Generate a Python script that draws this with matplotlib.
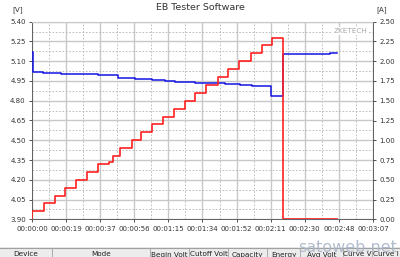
import numpy as np
import matplotlib
matplotlib.use("Agg")
import matplotlib.pyplot as plt
from matplotlib.ticker import MultipleLocator, FuncFormatter

# voltage samples (s, V) - step curve
volt_t = [0, 0.3, 6, 16, 25.2, 36.2, 47, 56.5, 65.6, 72.9, 78.4, 89.4, 100.3,
          105.8, 114, 120.4, 131, 137.8, 163.4, 167.2]
volt_v = [5.167, 5.019, 5.013, 5.005, 5.000, 4.993, 4.975, 4.963, 4.956, 4.951,
          4.946, 4.937, 4.933, 4.928, 4.921, 4.914, 4.834, 5.154, 5.163, 5.163]

# current samples (s, A) - step curve
curr_t = [0, 0.2, 6.4, 12.4, 18.3, 24.3, 30.3, 36.3, 42.2, 44.6, 48.2, 54.6,
          59.6, 66.0, 72.0, 77.9, 83.9, 89.4, 95.4, 101.8, 107.6, 113.7, 119.9,
          125.9, 131.4, 137.8, 167.2]
curr_i = [0, 0.1, 0.2, 0.3, 0.4, 0.5, 0.6, 0.7, 0.72, 0.8, 0.9, 1.0, 1.1, 1.2,
          1.3, 1.4, 1.5, 1.6, 1.7, 1.8, 1.9, 2.0, 2.1, 2.2, 2.3, 0.0, 0.0]

table_cols = ["Device", "Mode", "Begin Volt", "Cutoff Volt", "Capacity",
              "Energy", "Avg Volt", "Curve V", "Curve I"]
table_edges = [0, 52, 150, 189, 228, 267, 300, 343, 372, 400]

W, H = 400, 257
fig = plt.figure(figsize=(4, 2.57), dpi=100)
fig.patch.set_facecolor("white")

ax = fig.add_axes([32 / W, 1 - 219.3 / H, 341 / W, 197.6 / H])
ax.set_xlim(0, 187)
ax.set_ylim(3.90, 5.40)
ax.xaxis.set_major_locator(MultipleLocator(18.7))
ax.xaxis.set_minor_locator(MultipleLocator(9.35))
ax.yaxis.set_major_locator(MultipleLocator(0.15))
ax.yaxis.set_minor_locator(MultipleLocator(0.075))


def hms(x, pos):
    s = int(x + 0.5 + 1e-6)
    return f"{s // 3600:02d}:{(s % 3600) // 60:02d}:{s % 60:02d}"


ax.xaxis.set_major_formatter(FuncFormatter(hms))
ax.yaxis.set_major_formatter(FuncFormatter(lambda v, p: f"{v:.2f}"))
ax.grid(which="major", color="#c8c8c8", lw=1.0, ls="-")
ax.grid(which="minor", color="#b4b4b4", lw=0.6, ls=(0, (2, 2)))
ax.set_axisbelow(True)
ax.tick_params(which="minor", length=0)
ax.tick_params(which="major", labelsize=5.0, colors="#333333", length=2.5, width=0.6, pad=2)
for s in ["left", "bottom", "right"]:
    ax.spines[s].set_color("#606060")
    ax.spines[s].set_linewidth(0.7)
ax.spines["top"].set_color("#c8c8c8")

ax.step(volt_t, volt_v, where="post", color="#1414e6", lw=1.1, zorder=3)

ax2 = ax.twinx()
ax2.set_ylim(0, 2.5)
ax2.yaxis.set_major_locator(MultipleLocator(0.25))
ax2.yaxis.set_major_formatter(FuncFormatter(lambda v, p: f"{v:.2f}"))
ax2.tick_params(labelsize=5.0, colors="#333333", length=2.5, width=0.6, pad=2)
for s in ax2.spines.values():
    s.set_visible(False)
ax2.step(curr_t, curr_i, where="post", color="#ff2020", lw=1.2, zorder=4)

fig.text(0.5, 1 - 8 / H, "EB Tester Software", ha="center", va="center",
         fontsize=6.8, color="#333333")
fig.text(18 / W, 1 - 10 / H, "[V]", ha="center", va="center", fontsize=5.2, color="#333333")
fig.text(382 / W, 1 - 10 / H, "[A]", ha="center", va="center", fontsize=5.2, color="#333333")
fig.text(367 / W, 1 - 31 / H, "ZKETECH", ha="right", va="center", fontsize=5.2,
         color="#a8a8a8", bbox=dict(facecolor="white", edgecolor="none", pad=0.5))

# table header strip at the bottom, cut off by the window edge
tab = fig.add_axes([0, 0, 1, 10 / H])
tab.set_xlim(0, W)
tab.set_ylim(0, 10)
tab.axis("off")
tab.axhspan(0, 10, color="#ececec")
tab.axhline(9.5, color="#a0a0a0", lw=0.8)
for e in table_edges[1:-1]:
    tab.axvline(e, ymax=0.95, color="#a0a0a0", lw=0.6)
for name, a, b in zip(table_cols, table_edges[:-1], table_edges[1:]):
    tab.text((a + b) / 2, 2.5, name, ha="center", va="center", fontsize=5.2, color="#222222")

fig.text(397 / W, 1 - 247 / H, "satoweb.net", ha="right", va="center",
         fontsize=11.5, color="#a9b5c8", alpha=0.9)

fig.savefig("out.png", dpi=100)
